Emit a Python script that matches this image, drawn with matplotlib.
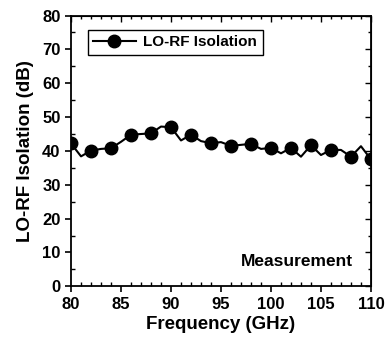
import matplotlib
matplotlib.use('Agg')
import matplotlib.pyplot as plt
from matplotlib.ticker import MultipleLocator

plt.rcParams['font.family'] = ['Liberation Sans', 'DejaVu Sans']
plt.rcParams['font.weight'] = 'bold'

# measured LO-RF isolation, 1 GHz steps
freq = list(range(80, 111))
isolation = [42.2, 38.4, 40.1, 40.6, 40.8, 42.7, 44.8, 45.0, 45.2, 47.2,
             47.0, 43.1, 44.8, 42.9, 42.3, 42.6, 41.5, 41.8, 42.1, 40.6,
             40.9, 39.3, 40.9, 38.3, 41.7, 38.8, 40.3, 40.3, 38.3, 41.4,
             37.5]

fig = plt.figure(figsize=(3.86, 3.45), dpi=100)
ax = fig.add_axes([0.184, 0.170, 0.777, 0.785])

ax.plot(freq, isolation, color='black', lw=1.5, marker='o', ms=9,
        markevery=2, label='LO-RF Isolation')

ax.set_xlim(80, 110)
ax.set_ylim(0, 80)
ax.xaxis.set_major_locator(MultipleLocator(5))
ax.xaxis.set_minor_locator(MultipleLocator(1))
ax.yaxis.set_major_locator(MultipleLocator(10))
ax.yaxis.set_minor_locator(MultipleLocator(5))

ax.tick_params(which='major', direction='out', length=4, width=1.2, labelsize=12)
ax.tick_params(which='minor', direction='in', length=3, width=1)
for t in ax.get_xticklabels() + ax.get_yticklabels():
    t.set_fontweight('bold')
for s in ax.spines.values():
    s.set_linewidth(1.3)

# ticks on top and right, pointing inward
top = ax.secondary_xaxis('top')
top.xaxis.set_major_locator(MultipleLocator(5))
top.xaxis.set_minor_locator(MultipleLocator(1))
top.tick_params(which='both', direction='in', labeltop=False, width=1)
top.tick_params(which='major', length=4)
top.tick_params(which='minor', length=2.5)
right = ax.secondary_yaxis('right')
right.yaxis.set_major_locator(MultipleLocator(10))
right.yaxis.set_minor_locator(MultipleLocator(5))
right.tick_params(which='both', direction='in', labelright=False, width=1)
right.tick_params(which='major', length=4)
right.tick_params(which='minor', length=2.5)

ax.set_xlabel('Frequency (GHz)', fontsize=13.5, fontweight='bold', labelpad=3)
ax.set_ylabel('LO-RF Isolation (dB)', fontsize=13.5, fontweight='bold', labelpad=6)

leg = ax.legend(loc='upper left', bbox_to_anchor=(0.03, 0.975), fancybox=False,
                edgecolor='black', framealpha=1, borderpad=0.35,
                handlelength=2.8, handletextpad=0.5,
                prop={'weight': 'bold', 'size': 11})
leg.get_frame().set_linewidth(1)

ax.text(108.2, 7.2, 'Measurement', ha='right', va='center',
        fontsize=12.5, fontweight='bold')

plt.savefig('out.png', dpi=100)
